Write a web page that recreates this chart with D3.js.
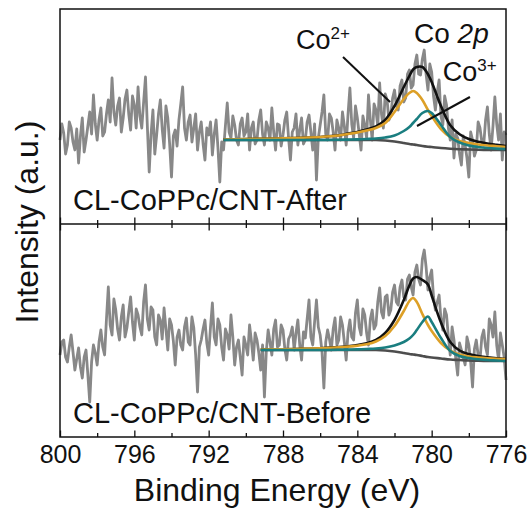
<!DOCTYPE html>
<html>
<head>
<meta charset="utf-8">
<script src="https://cdn.jsdelivr.net/npm/d3@7"></script>
<style>
  body { margin: 0; background: #fff; }
  svg { display: block; font-family: "Liberation Sans", Arial, sans-serif; }
</style>
</head>
<body>
<svg id="chart" width="530" height="514"></svg>
<script>
// ---------- DATA ----------
const energy = [
800,799.9,799.8,799.7,799.6,799.5,799.4,799.3,799.2,799.1,
799,798.9,798.8,798.7,798.6,798.5,798.4,798.3,798.2,798.1,
798,797.9,797.8,797.7,797.6,797.5,797.4,797.3,797.2,797.1,
797,796.9,796.8,796.7,796.6,796.5,796.4,796.3,796.2,796.1,
796,795.9,795.8,795.7,795.6,795.5,795.4,795.3,795.2,795.1,
795,794.9,794.8,794.7,794.6,794.5,794.4,794.3,794.2,794.1,
794,793.9,793.8,793.7,793.6,793.5,793.4,793.3,793.2,793.1,
793,792.9,792.8,792.7,792.6,792.5,792.4,792.3,792.2,792.1,
792,791.9,791.8,791.7,791.6,791.5,791.4,791.3,791.2,791.1,
791,790.9,790.8,790.7,790.6,790.5,790.4,790.3,790.2,790.1,
790,789.9,789.8,789.7,789.6,789.5,789.4,789.3,789.2,789.1,
789,788.9,788.8,788.7,788.6,788.5,788.4,788.3,788.2,788.1,
788,787.9,787.8,787.7,787.6,787.5,787.4,787.3,787.2,787.1,
787,786.9,786.8,786.7,786.6,786.5,786.4,786.3,786.2,786.1,
786,785.9,785.8,785.7,785.6,785.5,785.4,785.3,785.2,785.1,
785,784.9,784.8,784.7,784.6,784.5,784.4,784.3,784.2,784.1,
784,783.9,783.8,783.7,783.6,783.5,783.4,783.3,783.2,783.1,
783,782.9,782.8,782.7,782.6,782.5,782.4,782.3,782.2,782.1,
782,781.9,781.8,781.7,781.6,781.5,781.4,781.3,781.2,781.1,
781,780.9,780.8,780.7,780.6,780.5,780.4,780.3,780.2,780.1,
780,779.9,779.8,779.7,779.6,779.5,779.4,779.3,779.2,779.1,
779,778.9,778.8,778.7,778.6,778.5,778.4,778.3,778.2,778.1,
778,777.9,777.8,777.7,777.6,777.5,777.4,777.3,777.2,777.1,
777,776.9,776.8,776.7,776.6,776.5,776.4,776.3,776.2,776.1,
776];

// raw spectrum, "After" sample (a.u.)
const afterRaw = [
84,100,91,70,79,102,96,82,74,95,61,88,106,72,84,98,112,90,129,100,
84,104,116,88,92,110,124,102,146,112,99,118,126,92,106,125,134,110,94,128,
119,96,137,108,96,122,147,98,52,90,114,70,89,110,124,95,76,118,106,80,
47,88,94,78,104,120,137,96,84,102,109,82,96,110,74,92,102,80,64,96,
89,102,69,90,104,76,42,82,74,98,121,92,86,108,99,84,79,100,106,88,
92,110,74,96,102,80,84,104,114,90,79,102,96,84,116,92,74,100,99,78,
89,104,112,86,64,92,96,110,79,94,106,80,84,102,109,92,74,100,44,86,
99,112,129,90,84,110,106,92,74,104,96,84,112,98,79,110,136,100,86,118,
106,90,74,108,99,86,129,104,84,120,114,98,141,110,96,130,124,104,109,126,
134,118,114,138,144,122,126,150,154,136,139,160,169,150,149,165,174,150,134,160,
152,128,114,132,144,108,99,128,119,96,84,104,66,90,86,70,59,88,79,66,
47,92,84,68,74,102,96,82,79,104,117,90,74,98,127,100,84,110,64,92,
89];

// raw spectrum, "Before" sample (a.u.)
const beforeRaw = [
82,95,97,80,75,90,102,85,67,78,89,70,59,80,87,62,35,75,92,84,
72,95,107,90,82,118,150,112,102,138,127,108,97,120,132,100,109,125,140,115,
97,128,122,110,102,135,152,118,107,130,127,100,92,122,117,98,129,108,87,118,
112,96,72,100,107,92,87,110,119,95,92,120,109,82,45,90,97,108,117,94,
82,110,134,100,92,118,112,90,77,108,102,88,122,100,72,90,97,80,62,100,
92,82,112,96,77,104,97,84,67,92,40,85,107,95,82,108,117,90,92,112,
107,88,77,98,102,110,87,104,117,92,77,105,99,118,137,100,92,115,137,110,
102,85,49,95,107,98,87,108,119,92,97,120,112,95,77,105,117,100,97,124,
137,110,102,128,122,104,92,118,127,108,112,135,149,125,119,140,142,122,127,145,
152,135,132,150,157,140,137,158,162,150,142,165,172,158,152,178,187,170,147,160,
167,140,127,135,142,118,107,128,122,100,82,110,97,78,62,94,87,80,72,100,
92,75,50,88,97,82,77,100,107,90,82,118,112,100,125,92,77,104,92,80,
57];

// fitted components, "After"
const afterFitE = [791.2,790,789,788,787,786,785,784.5,784,783.5,783,782.5,782,781.5,781.2,781,780.8,780.5,780.2,780,779.5,779,778.5,778,777.5,777,776.5,776];
const afterBg    = [84,84,84,84,84,84,84,84,84,84,84,83.5,82.5,81,80,79.5,79,78,77.3,77,76,75.3,74.8,74.5,74.2,74,74,74];
const afterCo2   = [84.5,85,85.3,85.7,86.2,87,88.5,90,91.5,93.5,96,101,112,125,131,133,131,124,114,108,95,87,83,81,79.5,78.5,77.8,77];
const afterCo3   = [84,84,84,84,84,84,84.2,84.4,84.6,85,85.5,86.5,88.5,93,97,101,105,111,113,111,99,87,81.5,78.5,77,76,75.4,75];
const afterEnv   = [84.5,85,85.3,85.7,86.2,87,88.7,90.4,92.1,94.5,97.5,104,118,137,148,154.5,157,157,149.7,142,118,98.7,89.7,85,82.3,80.5,79.2,78];

// fitted components, "Before"
const beforeFitE = [789.2,788,787,786,785,784.5,784,783.5,783,782.5,782,781.5,781.2,781,780.8,780.5,780.2,780,779.5,779,778.5,778,777.5,777,776.5,776];
const beforeBg   = [87,87,87,87,87,87,87,87,87,86.5,85.5,84,83,82.5,82,81,80,79.5,78.5,77.5,77,76.5,76.2,76,76,76];
const beforeCo2  = [87.5,87.8,88.2,88.8,89.7,90.4,91.3,92.7,95.5,101,111,126,136,139,135,123,112,106,94,86.5,82.5,80.5,79.5,78.8,78.3,78];
const beforeCo3  = [87,87,87,87,87.2,87.4,87.6,88,88.5,89.5,91.5,95,98.5,102,107,115,120.5,115,99,86,81,79,77.7,77,76.5,76];
const beforeEnv  = [87.5,87.8,88.2,88.8,89.9,90.8,91.9,93.7,97,104,117,137,151.5,158.5,160,157,152.5,141.5,114.5,95,86.5,83,81,79.8,78.8,78];

const majorTicks = [800,796,792,788,784,780,776];
const minorTicks = [798,794,790,786,782,778];
const panelLabels = ["CL-CoPPc/CNT-After","CL-CoPPc/CNT-Before"];

// ---------- LAYOUT ----------
const svg = d3.select("#chart");
const L = 60, R = 506, T = 9, MID = 224, B = 437;
const x = d3.scaleLinear().domain([800,776]).range([L,R]);
const yTop = d3.scaleLinear().domain([0,215]).range([MID,T]);
const yBot = d3.scaleLinear().domain([0,213]).range([B,MID]);

const colors = { raw:"#888888", bg:"#4d4d4d", co2:"#DDA027", co3:"#1A7E80", env:"#111" };

function drawPanel(y, raw, fitE, bg, co2, co3, env, cls) {
  const g = svg.append("g").attr("class", cls);
  const rawLine = d3.line().x((d,i)=>x(energy[i])).y(d=>y(d));
  g.append("path").datum(raw).attr("d", rawLine)
    .attr("fill","none").attr("stroke",colors.raw).attr("stroke-width",2.8)
    .attr("stroke-linejoin","round");
  const fitLine = d3.line().x((d,i)=>x(fitE[i])).y(d=>y(d)).curve(d3.curveCatmullRom.alpha(0.5));
  [[bg,colors.bg],[env,colors.env],[co2,colors.co2],[co3,colors.co3]].forEach(([arr,c])=>{
    g.append("path").datum(arr).attr("d", fitLine)
      .attr("fill","none").attr("stroke",c).attr("stroke-width",2.6);
  });
}

drawPanel(yTop, afterRaw, afterFitE, afterBg, afterCo2, afterCo3, afterEnv, "top");
drawPanel(yBot, beforeRaw, beforeFitE, beforeBg, beforeCo2, beforeCo3, beforeEnv, "bottom");

// ---------- AXES ----------
function styleAxis(sel) {
  sel.select(".domain").remove();
  sel.selectAll("line").attr("stroke","#111").attr("stroke-width",1.3);
  sel.selectAll("text").attr("fill","#111").attr("font-size",25)
    .attr("font-family","'Liberation Sans', Arial, sans-serif");
}
svg.append("g").attr("transform",`translate(0,${B})`)
  .call(d3.axisBottom(x).tickValues(majorTicks).tickSize(-6.5).tickPadding(8).tickFormat(d3.format("d")))
  .call(styleAxis);
svg.append("g").attr("transform",`translate(0,${B})`)
  .call(d3.axisBottom(x).tickValues(minorTicks).tickSize(-4).tickFormat(""))
  .call(styleAxis);
svg.append("g").attr("transform",`translate(0,${MID})`)
  .call(d3.axisBottom(x).tickValues(majorTicks).tickSize(-6.5).tickFormat(""))
  .call(styleAxis);
svg.append("g").attr("transform",`translate(0,${MID})`)
  .call(d3.axisBottom(x).tickValues(minorTicks).tickSize(-4).tickFormat(""))
  .call(styleAxis);
svg.append("g").attr("transform",`translate(0,${MID})`)
  .call(d3.axisTop(x).tickValues(majorTicks).tickSize(-6.5).tickFormat(""))
  .call(styleAxis);
svg.append("g").attr("transform",`translate(0,${MID})`)
  .call(d3.axisTop(x).tickValues(minorTicks).tickSize(-4).tickFormat(""))
  .call(styleAxis);

// frames
svg.append("rect").attr("x",L).attr("y",T).attr("width",R-L).attr("height",B-T)
  .attr("fill","none").attr("stroke","#111").attr("stroke-width",1.5);
svg.append("line").attr("x1",L).attr("x2",R).attr("y1",MID).attr("y2",MID)
  .attr("stroke","#111").attr("stroke-width",1.5);

// axis titles
svg.append("text").attr("x",277).attr("y",501).attr("text-anchor","middle")
  .attr("font-size",32).attr("fill","#111").text("Binding Energy (eV)");
svg.append("text").attr("transform","translate(38,222) rotate(-90)").attr("text-anchor","middle")
  .attr("font-size",32).attr("fill","#111").text("Intensity (a.u.)");

// panel labels
svg.append("text").attr("x",73).attr("y",210).attr("font-size",29).attr("fill","#111").text(panelLabels[0]);
svg.append("text").attr("x",73).attr("y",423).attr("font-size",29).attr("fill","#111").text(panelLabels[1]);

// annotations (top panel, data coordinates)
const ann = svg.append("g").attr("fill","#111").attr("font-size",27);
const t1 = ann.append("text").attr("x",x(787.3)).attr("y",yTop(175));
t1.append("tspan").text("Co");
t1.append("tspan").attr("font-size",17).attr("dy",-10).text("2+");
const t2 = ann.append("text").attr("x",x(780.95)).attr("y",yTop(181)).attr("font-size",28);
t2.append("tspan").text("Co ");
t2.append("tspan").attr("font-style","italic").text("2p");
const t3 = ann.append("text").attr("x",x(779.4)).attr("y",yTop(143));
t3.append("tspan").text("Co");
t3.append("tspan").attr("font-size",17).attr("dy",-10).text("3+");

svg.append("line").attr("x1",x(784.77)).attr("y1",yTop(167)).attr("x2",x(782.24)).attr("y2",yTop(122))
  .attr("stroke","#111").attr("stroke-width",2);
svg.append("line").attr("x1",x(777.94)).attr("y1",yTop(127)).attr("x2",x(780.79)).attr("y2",yTop(98))
  .attr("stroke","#111").attr("stroke-width",2);
</script>
</body>
</html>
